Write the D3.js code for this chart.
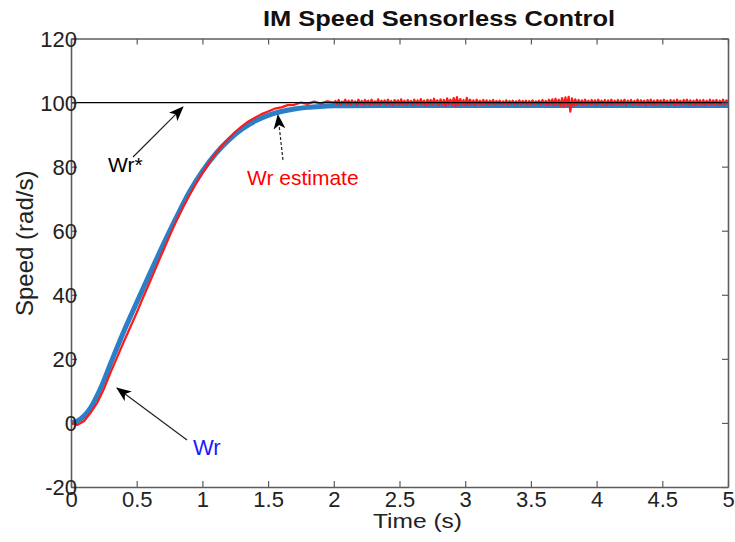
<!DOCTYPE html>
<html>
<head>
<meta charset="utf-8">
<script src="https://cdn.jsdelivr.net/npm/d3@7"></script>
<style>
  html, body { margin: 0; padding: 0; background: #fff; }
  svg { display: block; font-family: "Liberation Sans", Arial, sans-serif; }
</style>
</head>
<body>
<svg id="chart" width="735" height="542"></svg>
<script>
// Time axis ticks and speed axis ticks
const xTicks = [0, 0.5, 1, 1.5, 2, 2.5, 3, 3.5, 4, 4.5, 5];
const xTickLabels = ["0", "0.5", "1", "1.5", "2", "2.5", "3", "3.5", "4", "4.5", "5"];
const yTicks = [-20, 0, 20, 40, 60, 80, 100, 120];
const yTickLabels = ["-20", "0", "20", "40", "60", "80", "100", "120"];

// Speed reference Wr* (rad/s)
const refTime = [0, 5];
const refSpeed = [100, 100];

// Measured rotor speed Wr (rad/s)
const wrTime = [0, 0.05, 0.1, 0.15, 0.2, 0.25, 0.3, 0.4, 0.5, 0.6, 0.7, 0.8, 0.9, 1.0,
  1.1, 1.2, 1.3, 1.4, 1.5, 1.6, 1.7, 1.8, 1.9, 2.0, 2.5, 3.0, 3.5, 4.0, 4.5, 5.0];
const wrSpeed = [0, 0.6, 2.2, 4.8, 8.6, 13.2, 18.4, 28.4, 37.6, 46.6, 55.5, 64.0, 72.0, 78.6,
  84.0, 88.3, 91.7, 94.2, 96.0, 97.2, 98.0, 98.5, 98.8, 99.0, 99.1, 99.1, 99.1, 99.1, 99.1, 99.1];

// Estimated rotor speed Wr estimate (rad/s), sampled every 0.05 s up to 2 s
const estRiseSpeed = [0, -0.6, 0.6, 3.2, 6.3, 10.6, 15.6, 20.4, 25.2, 29.8, 34.4, 39.3, 44.0,
  48.8, 53.6, 58.3, 62.9, 67.1, 71.0, 74.7, 78.0, 81.2, 84.0, 86.6, 88.8, 90.9, 92.6,
  94.1, 95.3, 96.4, 97.2, 98.1, 98.5, 99.2, 99.3, 100.0, 99.6, 100.3, 99.7, 100.4];
// and every 0.0125 s from 2 s to 5 s
const estSteadySpeed = [
  100.0, 100.5, 99.6, 100.8, 99.4, 100.3, 99.8, 100.9, 99.5, 100.6, 99.3, 100.7, 99.7, 100.4, 99.2, 100.9, 99.6, 100.5, 99.4, 100.8,
  99.7, 100.6, 99.3, 100.9, 99.5, 100.4, 99.6, 101.0, 99.3, 100.6, 99.8, 100.7, 99.4, 100.9, 99.5, 100.5, 99.2, 100.8, 99.6, 100.7,
  99.4, 101.0, 99.5, 100.6, 99.3, 100.8, 99.7, 100.5, 99.2, 100.9, 99.5, 100.7, 99.4, 101.1, 99.6, 100.6, 99.1, 100.9, 99.5, 100.8,
  99.3, 101.2, 99.6, 100.7, 99.2, 101.0, 99.4, 100.8, 99.0, 101.3, 99.5, 100.9, 99.3, 101.4, 98.9, 101.7, 99.2, 101.1, 99.4, 100.8,
  99.1, 101.5, 99.3, 100.9, 99.5, 100.7, 99.2, 100.9, 99.6, 100.6, 99.4, 100.8, 99.5, 100.7, 99.3, 100.6, 99.6, 100.8, 99.4, 100.5,
  99.7, 100.6, 99.5, 100.4, 99.6, 100.7, 99.4, 100.5, 99.7, 100.6, 99.5, 100.4, 99.6, 100.7, 99.5, 100.5, 99.7, 100.6, 99.4, 100.5,
  99.6, 100.7, 99.5, 100.4, 99.7, 100.6, 99.4, 100.8, 99.6, 100.5, 99.3, 100.9, 99.5, 101.0, 99.2, 101.2, 99.4, 100.9, 99.0, 101.4,
  98.8, 101.6, 99.2, 101.8, 97.2, 101.3, 99.0, 101.0, 99.4, 100.8, 99.5, 100.7, 99.3, 100.9, 99.6, 100.6, 99.4, 100.8, 99.5, 100.7,
  99.3, 100.9, 99.6, 100.6, 99.4, 100.8, 99.2, 100.7, 99.5, 100.9, 99.3, 100.6, 99.6, 100.8, 99.4, 100.7, 99.5, 100.9, 99.2, 100.6,
  99.6, 100.8, 99.4, 100.5, 99.5, 100.9, 99.3, 100.7, 99.6, 100.6, 99.2, 100.8, 99.5, 100.9, 99.4, 100.6, 99.3, 100.8, 99.6, 100.7,
  99.4, 100.9, 99.5, 100.6, 99.3, 100.8, 99.6, 100.7, 99.2, 100.9, 99.5, 100.6, 99.4, 100.8, 99.6, 100.9, 99.3, 100.7, 99.5, 100.6,
  99.2, 100.9, 99.6, 100.7, 99.4, 100.8, 99.3, 100.6, 99.5, 100.9, 99.4, 100.7, 99.6, 100.8, 99.3, 100.6, 99.5, 100.9, 99.4, 100.7,
  100.2];

const estPoints = [];
estRiseSpeed.forEach((v, i) => estPoints.push([i * 0.05, v]));
estSteadySpeed.forEach((v, i) => estPoints.push([2 + i * 0.0125, v]));

const svg = d3.select("#chart");
const plotLeft = 71, plotRight = 728, plotTop = 38.5, plotBottom = 487;

const x = d3.scaleLinear().domain([0, 5]).range([plotLeft, plotRight]);
const y = d3.scaleLinear().domain([-20, 120]).range([plotBottom, plotTop]);

const axisColor = "#5c5c5c";
const tickLen = 6;

// Curves
const lineLinear = d3.line().x(d => x(d[0])).y(d => y(d[1]));
const lineSmooth = d3.line().x(d => x(d[0])).y(d => y(d[1])).curve(d3.curveCatmullRom);

svg.append("path")
  .datum(wrTime.map((t, i) => [t, wrSpeed[i]]))
  .attr("d", lineSmooth)
  .attr("fill", "none")
  .attr("stroke", "#2a7fc6")
  .attr("stroke-width", 5)
  .attr("stroke-linejoin", "round");

svg.append("path")
  .datum(estPoints)
  .attr("d", lineLinear)
  .attr("fill", "none")
  .attr("stroke", "#ff1a1a")
  .attr("stroke-width", 2.2)
  .attr("stroke-linejoin", "round");

svg.append("path")
  .datum(refTime.map((t, i) => [t, refSpeed[i]]))
  .attr("d", lineLinear)
  .attr("fill", "none")
  .attr("stroke", "#000")
  .attr("stroke-width", 1.2);

// Axes box with inward ticks on all sides
const axisBottom = d3.axisBottom(x).tickValues(xTicks).tickSizeInner(-tickLen).tickSizeOuter(0)
  .tickFormat((d, i) => xTickLabels[i]);
const axisTop = d3.axisTop(x).tickValues(xTicks).tickSizeInner(-tickLen).tickSizeOuter(0).tickFormat("");
const axisLeft = d3.axisLeft(y).tickValues(yTicks).tickSizeInner(-tickLen).tickSizeOuter(0)
  .tickFormat((d, i) => yTickLabels[i]);
const axisRight = d3.axisRight(y).tickValues(yTicks).tickSizeInner(-tickLen).tickSizeOuter(0).tickFormat("");

function styleAxis(g) {
  g.select(".domain").attr("stroke", axisColor).attr("stroke-width", 1.6);
  g.selectAll(".tick line").attr("stroke", axisColor).attr("stroke-width", 1.2);
  g.selectAll(".tick text").attr("fill", "#222").attr("font-size", 22)
    .attr("font-family", "'Liberation Sans', Arial, sans-serif");
}

const gb = svg.append("g").attr("transform", `translate(0,${plotBottom})`).call(axisBottom).call(styleAxis);
gb.selectAll(".tick text").attr("y", 4).attr("dy", "0.71em");
svg.append("g").attr("transform", `translate(0,${plotTop})`).call(axisTop).call(styleAxis);
const gl = svg.append("g").attr("transform", `translate(${plotLeft},0)`).call(axisLeft).call(styleAxis);
gl.selectAll(".tick text").attr("x", 6).attr("dy", "0.36em");
svg.append("g").attr("transform", `translate(${plotRight},0)`).call(axisRight).call(styleAxis);

// Titles
svg.append("text")
  .attr("x", 263).attr("y", 26)
  .attr("font-size", 22).attr("font-weight", "bold").attr("fill", "#111")
  .attr("textLength", 352).attr("lengthAdjust", "spacingAndGlyphs")
  .text("IM Speed Sensorless Control");

svg.append("text")
  .attr("x", 373).attr("y", 528)
  .attr("font-size", 20).attr("fill", "#222")
  .attr("textLength", 89).attr("lengthAdjust", "spacingAndGlyphs")
  .text("Time (s)");

svg.append("text")
  .attr("transform", "translate(33,316) rotate(-90)")
  .attr("font-size", 24).attr("fill", "#222")
  .text("Speed (rad/s)");

// Annotation arrows
const defs = svg.append("defs");
defs.append("marker")
  .attr("id", "head")
  .attr("viewBox", "0 0 15 12")
  .attr("refX", 14).attr("refY", 6)
  .attr("markerWidth", 15).attr("markerHeight", 12)
  .attr("markerUnits", "userSpaceOnUse")
  .attr("orient", "auto")
  .append("path")
  .attr("d", "M0,0 L15,6 L0,12 L4,6 Z")
  .attr("fill", "#000");

function arrow(t0, v0, t1, v1, dashed) {
  svg.append("line")
    .attr("x1", x(t0)).attr("y1", y(v0))
    .attr("x2", x(t1)).attr("y2", y(v1))
    .attr("stroke", "#222").attr("stroke-width", 1.2)
    .attr("stroke-dasharray", dashed ? "3,2" : null)
    .attr("marker-end", "url(#head)");
}

arrow(0.472, 83.0, 0.852, 98.6, false);
arrow(1.613, 82.1, 1.575, 96.1, true);
arrow(0.883, -5.3, 0.35, 10.9, false);

svg.append("text").attr("x", x(0.282)).attr("y", y(78.3))
  .attr("font-size", 21).attr("fill", "#000").text("Wr*");
svg.append("text").attr("x", x(1.339)).attr("y", y(74.3))
  .attr("font-size", 21).attr("fill", "#ff0000").text("Wr estimate");
svg.append("text").attr("x", x(0.928)).attr("y", y(-10.0))
  .attr("font-size", 22).attr("fill", "#1a1aff").text("Wr");
</script>
</body>
</html>
